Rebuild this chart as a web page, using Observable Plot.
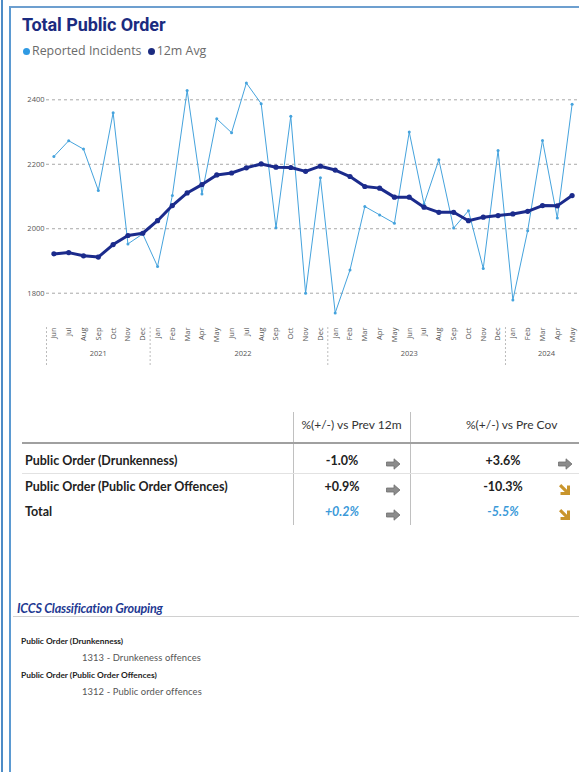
<!DOCTYPE html>
<html><head><meta charset="utf-8">
<script src="https://cdn.jsdelivr.net/npm/d3@7"></script>
<script src="https://cdn.jsdelivr.net/npm/@observablehq/plot@0.6"></script>
<style>
body{margin:0;width:579px;height:772px;overflow:hidden;background:#fff;position:relative;font-family:Lato,"Open Sans",sans-serif}
.abs{position:absolute;white-space:nowrap}
.c{position:absolute;white-space:nowrap;line-height:16px;height:16px}
</style></head><body>
<script>
// ---------- data ----------
const categories = [
 "Jun 2021","Jul 2021","Aug 2021","Sep 2021","Oct 2021","Nov 2021","Dec 2021",
 "Jan 2022","Feb 2022","Mar 2022","Apr 2022","May 2022","Jun 2022","Jul 2022","Aug 2022","Sep 2022","Oct 2022","Nov 2022","Dec 2022",
 "Jan 2023","Feb 2023","Mar 2023","Apr 2023","May 2023","Jun 2023","Jul 2023","Aug 2023","Sep 2023","Oct 2023","Nov 2023","Dec 2023",
 "Jan 2024","Feb 2024","Mar 2024","Apr 2024","May 2024"];
const reported = [2224,2273,2247,2119,2360,1953,1984,
 1883,2103,2429,2108,2341,2298,2452,2388,2003,2349,1800,2158,
 1739,1872,2069,2043,2017,2300,2077,2214,2002,2056,1877,2243,
 1779,1994,2274,2033,2386];
const avg12m = [1922,1926,1916,1912,1951,1979,1986,
 2025,2072,2111,2137,2167,2173,2189,2201,2191,2190,2178,2194,
 2182,2162,2131,2126,2098,2098,2067,2051,2051,2025,2036,2041,
 2046,2054,2072,2071,2103];
const yTicks = [1800,2000,2200,2400];
const years = ["2021","2022","2023","2024"];
const yearStarts = ["Jun 2021","Jan 2022","Jan 2023","Jan 2024"];
const yearCenters = ["Sep 2021","Jun 2022","Jun 2023","Mar 2024"];

const tableHeaders = ["%(+/-) vs Prev 12m","%(+/-) vs Pre Cov"];
const tableRows = ["Public Order (Drunkenness)","Public Order (Public Order Offences)","Total"];
const vsPrev12m = ["-1.0%","+0.9%","+0.2%"];
const vsPrev12mTrend = ["flat","flat","flat"];
const vsPreCov = ["+3.6%","-10.3%","-5.5%"];
const vsPreCovTrend = ["flat","down","down"];

const groupTitle = "ICCS Classification Grouping";
const groups = ["Public Order (Drunkenness)","Public Order (Public Order Offences)"];
const groupItems = ["1313 - Drunkeness offences","1312 - Public order offences"];

// ---------- frame ----------
function div(cls, style, text){const d=document.createElement("div");d.className=cls;Object.assign(d.style,style);if(text!=null)d.textContent=text;document.body.appendChild(d);return d;}
div("abs",{left:"1px",top:"0",width:"2px",height:"772px",background:"#4d8cc6"});
div("abs",{left:"9px",top:"6px",width:"640px",height:"820px",borderLeft:"2px solid #5b9ad2",borderTop:"2px solid #6d9fcf"});

div("abs",{left:"22px",top:"14px",font:"bold 18px Roboto, sans-serif",color:"#1b2b80",letterSpacing:"-0.1px"},"Total Public Order");
const leg = div("abs",{left:"23px",top:"42px",font:"12.4px 'Open Sans', sans-serif",color:"#6b6b6b"});
leg.innerHTML = `<span style="display:inline-block;width:7px;height:7px;border-radius:50%;background:#2f9ae3;margin-right:2px"></span>Reported Incidents <span style="display:inline-block;width:7px;height:7px;border-radius:50%;background:#1b2b80;margin:0 2px 0 3px"></span>12m Avg`;

// ---------- chart ----------
const rows = categories.map((c,i)=>({c, reported: reported[i], avg: avg12m[i]}));
const step = (579-46)/36;
const chart = Plot.plot({
  width: 579, height: 300,
  marginLeft: 46, marginRight: 0, marginTop: 6.74, marginBottom: 51.5,
  style: {fontFamily: "'Open Sans', sans-serif", background: "transparent", overflow: "visible"},
  x: {type: "point", domain: categories, padding: 0.5, round: false, label: null},
  y: {domain: [1720, 2470], label: null},
  marks: [
    Plot.gridY(yTicks, {stroke: "#a8a8a8", strokeOpacity: 1, strokeDasharray: "3,3"}),
    Plot.axisY(yTicks, {tickSize: 0, tickPadding: 2, tickFormat: d => String(d), fontSize: 7.5, fill: "#555", label: null}),
    Plot.axisX({tickRotate: -90, tickSize: 0, tickPadding: 8.5, tickFormat: d => d.split(" ")[0], fontSize: 7.5, fill: "#555", label: null}),
    Plot.ruleX(yearStarts, {x: d => d, dx: -step/2, insetTop: 250.3, insetBottom: -46.5, stroke: "#bbb", strokeDasharray: "2,2"}),
    ...years.map((y,i) => Plot.text([y], {x: () => yearCenters[i], text: d => d, frameAnchor: "bottom", dy: 36.5, dx: (i===1? step/2 + 4 : 0) + (i===3? 4 : 0), fontSize: 7.5, fill: "#555"})),
    Plot.line(rows, {x: "c", y: "reported", stroke: "#45a3dd", strokeWidth: 1}),
    Plot.dot(rows, {x: "c", y: "reported", r: 1.5, fill: "#45a3dd"}),
    Plot.line(rows, {x: "c", y: "avg", stroke: "#1b2b8c", strokeWidth: 3}),
    Plot.dot(rows, {x: "c", y: "avg", r: 2.6, fill: "#1b2b8c"})
  ]
});
chart.style.position = "absolute"; chart.style.left = "0px"; chart.style.top = "70px";
document.body.appendChild(chart);

// ---------- table ----------
const flatSvg = `<svg width="15" height="12" viewBox="0 0 15 12"><path d="M0.5,4 H8 V0.8 L14,6 L8,11.2 V8 H0.5 Z" fill="#8c8c8c" stroke="#6e6e6e" stroke-width="0.8"/></svg>`;
const downSvg = `<svg width="13" height="13" viewBox="0 0 13 13"><path d="M1,3.2 L3.2,1 L9,6.8 V2.5 H12 V12 H2.5 V9 H6.8 Z" fill="#c9952c"/></svg>`;
div("abs",{left:"293px",top:"412px",width:"1px",height:"113px",background:"#c0c0c0"});
div("abs",{left:"410px",top:"412px",width:"1px",height:"113px",background:"#c0c0c0"});
div("abs",{left:"22px",top:"442px",width:"600px",height:"2px",background:"#a0a0a0"});
div("abs",{left:"22px",top:"473px",width:"600px",height:"1px",background:"#e2e2e2"});
div("c",{left:"293px",top:"417px",width:"117px",textAlign:"center",fontSize:"12px",color:"#333"},tableHeaders[0]);
div("c",{left:"410px",top:"417px",width:"217px",textAlign:"left",paddingLeft:"56px",boxSizing:"border-box",fontSize:"12px",color:"#333"},tableHeaders[1]);
const rowY = [453,479,504];
tableRows.forEach((r,i)=>{
  const total = i===2;
  div("c",{left:"25px",top:rowY[i]+"px",fontSize:"12.5px",fontWeight:"bold",color:"#222"},r);
  const vs = {fontSize:"12.5px",fontWeight:"bold",color: total?"#3b9ad9":"#222",fontStyle: total?"italic":"normal",textAlign:"center",width:"60px"};
  div("c",Object.assign({left:"312px",top:rowY[i]+"px"},vs),vsPrev12m[i]);
  div("c",Object.assign({left:"473px",top:rowY[i]+"px"},vs),vsPreCov[i]);
  const a1 = div("abs",{left:"386px",top:(rowY[i]+1)+"px"}); a1.innerHTML = vsPrev12mTrend[i]==="down"?downSvg:flatSvg;
  const a2 = div("abs",{left:"558px",top:(rowY[i]+1)+"px"}); a2.innerHTML = vsPreCovTrend[i]==="down"?downSvg:flatSvg;
});

// ---------- ICCS ----------
div("c",{left:"17px",top:"601px",fontSize:"12.6px",fontWeight:"bold",fontStyle:"italic",color:"#1f3a93",letterSpacing:"-0.2px"},groupTitle);
div("abs",{left:"13px",top:"616px",width:"600px",height:"1px",background:"#d0d0d0"});
groups.forEach((g,i)=>{
  div("c",{left:"21px",top:(633+i*34)+"px",fontSize:"8.4px",fontWeight:"bold",color:"#222"},g);
  div("c",{left:"82px",top:(650+i*34)+"px",fontSize:"9.4px",color:"#555",letterSpacing:"0.1px"},groupItems[i]);
});
</script>
</body></html>
